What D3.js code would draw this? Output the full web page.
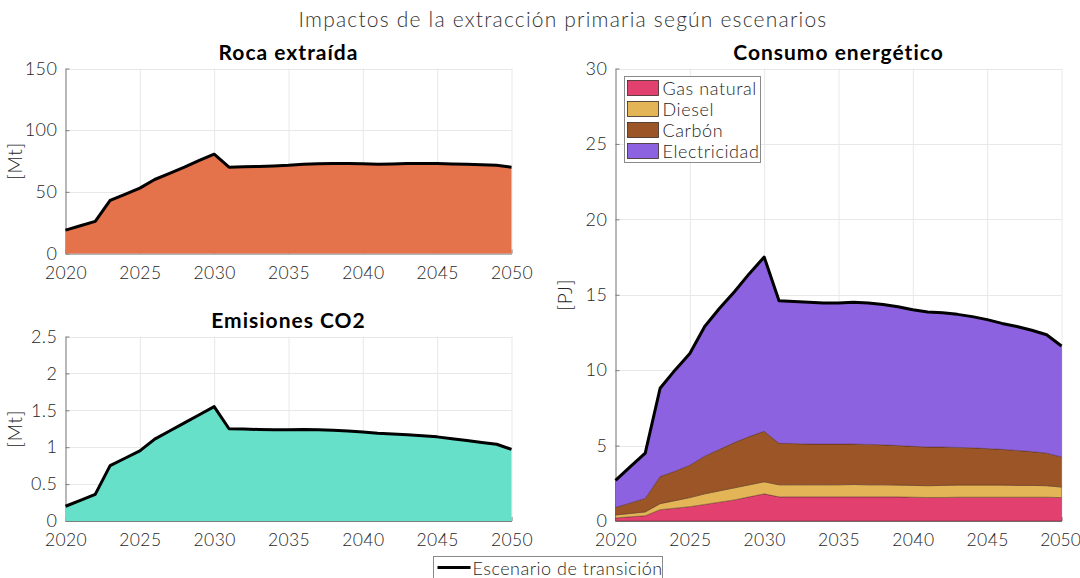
<!DOCTYPE html>
<html>
<head>
<meta charset="utf-8">
<script src="https://cdn.jsdelivr.net/npm/d3@7"></script>
<style>
  html, body { margin: 0; padding: 0; background: #fff; }
  svg { display: block; font-family: Lato, "DejaVu Sans", sans-serif; }
</style>
</head>
<body>
<svg id="chart" width="1080" height="578"></svg>
<script>
// Years covered by every panel
const years = d3.range(2020, 2051);

// Roca extraída [Mt]
const rock = [19, 22.5, 26, 43, 48, 53, 60, 65, 70, 75.5, 80.5, 70, 70.3, 70.6, 71, 71.5, 72.3, 72.7, 73, 73, 72.8, 72.3, 72.6, 72.9, 73, 73, 72.6, 72.3, 72, 71.6, 70];

// Emisiones CO2 [Mt]
const co2 = [0.2, 0.28, 0.36, 0.75, 0.85, 0.95, 1.11, 1.22, 1.33, 1.44, 1.55, 1.25, 1.245, 1.24, 1.235, 1.235, 1.24, 1.235, 1.23, 1.22, 1.205, 1.19, 1.18, 1.17, 1.155, 1.14, 1.115, 1.09, 1.065, 1.04, 0.97];

// Consumo energético por fuente [PJ]
const gas = [0.2, 0.28, 0.35, 0.75, 0.85, 0.95, 1.1, 1.25, 1.4, 1.6, 1.8, 1.6, 1.6, 1.6, 1.6, 1.6, 1.6, 1.6, 1.6, 1.6, 1.58, 1.56, 1.56, 1.58, 1.58, 1.58, 1.58, 1.58, 1.58, 1.58, 1.55];
const diesel = [0.2, 0.22, 0.25, 0.4, 0.5, 0.6, 0.7, 0.75, 0.8, 0.8, 0.8, 0.8, 0.8, 0.8, 0.8, 0.8, 0.82, 0.8, 0.8, 0.78, 0.78, 0.78, 0.8, 0.8, 0.8, 0.8, 0.8, 0.78, 0.78, 0.76, 0.7];
const coal = [0.5, 0.7, 0.9, 1.8, 1.95, 2.15, 2.5, 2.75, 3.0, 3.2, 3.35, 2.75, 2.73, 2.7, 2.7, 2.7, 2.68, 2.68, 2.65, 2.62, 2.59, 2.56, 2.54, 2.5, 2.47, 2.42, 2.37, 2.32, 2.24, 2.16, 2.0];
const electricity = [1.8, 2.4, 3.0, 5.85, 6.7, 7.4, 8.6, 9.35, 10.0, 10.8, 11.55, 9.45, 9.42, 9.4, 9.35, 9.35, 9.4, 9.37, 9.3, 9.2, 9.05, 8.95, 8.9, 8.82, 8.7, 8.55, 8.35, 8.22, 8.05, 7.85, 7.35];

const energyKeys = ["Gas natural", "Diesel", "Carbón", "Electricidad"];
const energySeries = [gas, diesel, coal, electricity];
const energyColors = ["#E2416F", "#E3B556", "#9C5526", "#8D62E0"];

const xTicks = [2020, 2025, 2030, 2035, 2040, 2045, 2050];
const rockTicks = [0, 50, 100, 150];
const co2Ticks = [0, 0.5, 1, 1.5, 2, 2.5];
const energyTicks = [0, 5, 10, 15, 20, 25, 30];

const svg = d3.select("#chart");
const textColor = "#262626";
const gridColor = "#e8e8e8";
const axisColor = "#7f7f7f";

svg.append("text")
  .attr("x", 563).attr("y", 27)
  .attr("text-anchor", "middle")
  .attr("font-size", 21)
  .attr("font-weight", 300)
  .attr("letter-spacing", 1.2)
  .attr("fill", "#333")
  .text("Impactos de la extracción primaria según escenarios");

// Builds one panel: grid, axes, title and y label; returns scales + plot layer
function panel(box, yMax, yTicks, title, ylabel) {
  const g = svg.append("g");
  const x = d3.scaleLinear().domain([2020, 2050]).range([box.left, box.right]);
  const y = d3.scaleLinear().domain([0, yMax]).range([box.bottom, box.top]);

  // grid
  g.append("g").selectAll("line").data(xTicks).join("line")
    .attr("x1", d => x(d) + 0.5).attr("x2", d => x(d) + 0.5)
    .attr("y1", box.top).attr("y2", box.bottom)
    .attr("stroke", gridColor).attr("stroke-width", 1);
  g.append("g").selectAll("line").data(yTicks).join("line")
    .attr("x1", box.left).attr("x2", box.right)
    .attr("y1", d => Math.round(y(d)) + 0.5).attr("y2", d => Math.round(y(d)) + 0.5)
    .attr("stroke", gridColor).attr("stroke-width", 1);

  // axes
  const xAxis = d3.axisBottom(x).tickValues(xTicks).tickFormat(d3.format("d"))
    .tickSizeInner(-4).tickSizeOuter(0).tickPadding(13);
  const yAxis = d3.axisLeft(y).tickValues(yTicks).tickFormat(d => String(d))
    .tickSizeInner(-4).tickSizeOuter(0).tickPadding(8);
  const gx = g.append("g").attr("transform", `translate(0,${box.bottom})`).call(xAxis);
  const gy = g.append("g").attr("transform", `translate(${box.left},0)`).call(yAxis);
  [gx, gy].forEach(a => {
    a.select(".domain").attr("stroke", axisColor);
    a.selectAll(".tick line").attr("stroke", axisColor);
    a.selectAll(".tick text").attr("fill", textColor).attr("font-size", 18)
      .attr("font-family", "Lato, sans-serif").attr("font-weight", 300)
      .attr("letter-spacing", 0.5);
  });
  gx.selectAll(".tick text").attr("font-size", 17.5).attr("letter-spacing", 0.4);

  g.append("text")
    .attr("x", (box.left + box.right) / 2).attr("y", box.top - 9)
    .attr("text-anchor", "middle")
    .attr("font-size", 21).attr("font-weight", 700).attr("fill", "#000")
    .attr("letter-spacing", 1)
    .text(title);

  g.append("text")
    .attr("transform", `translate(${box.ylabelX},${(box.top + box.bottom) / 2}) rotate(-90)`)
    .attr("text-anchor", "middle")
    .attr("font-size", 19).attr("font-weight", 300).attr("fill", textColor)
    .attr("letter-spacing", 0.8)
    .text(ylabel);

  const layer = g.append("g");
  return { x, y, layer, gx };
}

function singleArea(p, values, color) {
  const data = years.map((yr, i) => ({ yr, v: values[i] }));
  p.layer.append("path").datum(data)
    .attr("fill", color)
    .attr("d", d3.area().x(d => p.x(d.yr)).y0(p.y(0)).y1(d => p.y(d.v)));
  p.layer.append("path").datum(data)
    .attr("fill", "none").attr("stroke", "#000").attr("stroke-width", 3)
    .attr("stroke-linejoin", "round")
    .attr("d", d3.line().x(d => p.x(d.yr)).y(d => p.y(d.v)));
}

// Roca extraída
const pRock = panel({ left: 65.5, right: 511.5, top: 68.5, bottom: 253.5, ylabelX: 22 },
  150, rockTicks, "Roca extraída", "[Mt]");
singleArea(pRock, rock, "#E4734C");

// Emisiones CO2
const pCo2 = panel({ left: 65.5, right: 511.5, top: 336.5, bottom: 521, ylabelX: 22 },
  2.5, co2Ticks, "Emisiones CO2", "[Mt]");
singleArea(pCo2, co2, "#67E0CA");

// Consumo energético (stacked)
const pEn = panel({ left: 615.5, right: 1061.5, top: 68.5, bottom: 521, ylabelX: 572 },
  30, energyTicks, "Consumo energético", "[PJ]");
// keep the last year label inside the canvas edge
pEn.gx.selectAll(".tick text").filter(d => d === 2050)
  .attr("letter-spacing", 0).attr("dx", -1.5);

const rows = years.map((yr, i) => {
  const r = { yr };
  energyKeys.forEach((k, j) => { r[k] = energySeries[j][i]; });
  return r;
});
const stacked = d3.stack().keys(energyKeys)(rows);
const areaGen = d3.area()
  .x(d => pEn.x(d.data.yr)).y0(d => pEn.y(d[0])).y1(d => pEn.y(d[1]));
pEn.layer.selectAll("path.layer").data(stacked).join("path")
  .attr("class", "layer")
  .attr("fill", (d, i) => energyColors[i])
  .attr("stroke", "rgba(60,30,20,0.55)").attr("stroke-width", 0.7)
  .attr("d", areaGen);
const totals = rows.map(r => ({ yr: r.yr, v: d3.sum(energyKeys, k => r[k]) }));
pEn.layer.append("path").datum(totals)
  .attr("fill", "none").attr("stroke", "#000").attr("stroke-width", 3)
  .attr("stroke-linejoin", "round")
  .attr("d", d3.line().x(d => pEn.x(d.yr)).y(d => pEn.y(d.v)));

// Legend for energy sources
const lg = svg.append("g").attr("transform", "translate(624.5,76.5)");
lg.append("rect").attr("width", 136).attr("height", 86)
  .attr("fill", "#fff").attr("stroke", "#8a8a8a").attr("stroke-width", 1);
energyKeys.forEach((k, i) => {
  const row = lg.append("g").attr("transform", `translate(3,${4 + i * 21})`);
  row.append("rect").attr("width", 31).attr("height", 15)
    .attr("fill", energyColors[i]).attr("stroke", "#3a2a22").attr("stroke-width", 0.8);
  row.append("text").attr("x", 35).attr("y", 14)
    .attr("font-size", 18).attr("font-weight", 300).attr("fill", textColor)
    .attr("letter-spacing", 0.6)
    .text(k);
});

// Scenario legend at the bottom
const bl = svg.append("g").attr("transform", "translate(433.5,556.5)");
bl.append("rect").attr("width", 229).attr("height", 30)
  .attr("fill", "#fff").attr("stroke", "#8a8a8a").attr("stroke-width", 1);
bl.append("line").attr("x1", 4).attr("x2", 37).attr("y1", 11).attr("y2", 11)
  .attr("stroke", "#000").attr("stroke-width", 3);
bl.append("text").attr("x", 39).attr("y", 18)
  .attr("font-size", 18).attr("font-weight", 300).attr("fill", textColor)
  .attr("letter-spacing", 0.5)
  .text("Escenario de transición");
</script>
</body>
</html>
